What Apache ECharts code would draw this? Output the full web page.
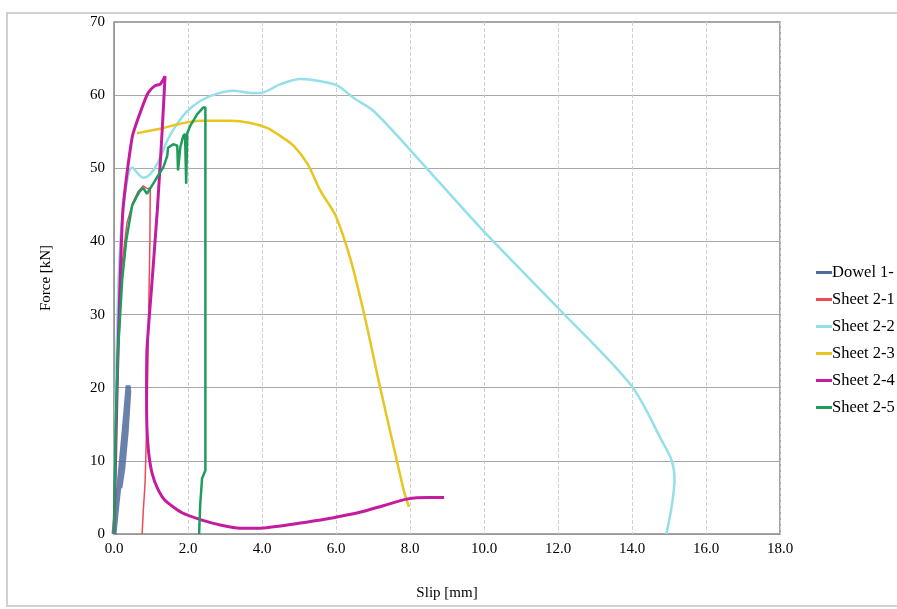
<!DOCTYPE html>
<html>
<head>
<meta charset="utf-8">
<script src="https://cdn.jsdelivr.net/npm/echarts@6/dist/echarts.min.js"></script>
<style>
  html, body { margin: 0; padding: 0; background: #fff; }
  #chart { width: 897px; height: 609px; }
</style>
</head>
<body>
<div id="chart"></div>
<script>
// 读图估计的数据 [slip mm, force kN]
const dowel1 = [[0, 0], [0.08, 4], [0.13, 6.4], [0.2, 10], [0.29, 15], [0.38, 20.3], [0.4, 19.5], [0.33, 14], [0.24, 9], [0.16, 6.3]];
const sheet21 = [[0, 0], [0.05, 15], [0.12, 28], [0.22, 37], [0.35, 42.5], [0.5, 45.2], [0.65, 46.8], [0.79, 47.6], [0.9, 47.2], [0.98, 47.3], [0.97, 40], [0.93, 28], [0.89, 16], [0.84, 7], [0.79, 3], [0.76, 0]];
const sheet22 = [[0, 0], [0.05, 20], [0.15, 38], [0.3, 46.5], [0.49, 50.1], [0.79, 48.7], [0.98, 49.2], [1.19, 50.8], [1.44, 53.8], [1.71, 56.1], [1.98, 57.8], [2.33, 59.2], [2.79, 60.2], [3.22, 60.6], [3.69, 60.3], [3.96, 60.3], [4.5, 61.5], [5.04, 62.2], [5.58, 61.9], [6.04, 61.3], [6.48, 59.6], [7.02, 57.8], [7.97, 52.7], [9.97, 41.5], [11.98, 31.0], [13.98, 20.3], [14.8, 12.8], [15.07, 10.1], [15.15, 7.4], [15.07, 3.7], [14.93, 0]];
const sheet23 = [[0.62, 54.8], [1.25, 55.4], [1.79, 56.1], [2.33, 56.5], [3.14, 56.5], [3.69, 56.2], [4.15, 55.5], [4.5, 54.4], [4.85, 53.1], [5.23, 50.6], [5.58, 46.9], [5.99, 43.5], [6.4, 37.4], [6.8, 29.2], [7.15, 21.0], [7.56, 11.9], [7.83, 6.0], [7.97, 3.7]];
const sheet24 = [[0, 0], [0.05, 12], [0.11, 25.1], [0.24, 44.2], [0.49, 54.2], [0.7, 57.5], [0.92, 60.3], [1.11, 61.3], [1.25, 61.5], [1.38, 62.6], [1.3, 55], [1.17, 44.2], [1.02, 34], [0.89, 25.1], [0.88, 19], [0.89, 14.6], [0.94, 11], [1.03, 8.3], [1.18, 6.2], [1.38, 4.6], [1.84, 2.9], [2.38, 1.9], [2.9, 1.2], [3.41, 0.8], [3.96, 0.8], [4.5, 1.1], [5.04, 1.5], [5.9, 2.2], [6.67, 3.0], [7.3, 3.9], [7.94, 4.8], [8.5, 5.0], [8.92, 5.0]];
const sheet25 = [[0, 0], [0.05, 15.6], [0.11, 25.1], [0.22, 34.7], [0.33, 40.1], [0.49, 44.9], [0.62, 46.2], [0.7, 46.9], [0.79, 47.3], [0.89, 46.5], [1.06, 47.9], [1.19, 49.0], [1.33, 50.1], [1.44, 51.7], [1.46, 52.8], [1.6, 53.3], [1.71, 53.1], [1.73, 49.7], [1.79, 52.8], [1.87, 54.4], [1.92, 54.7], [1.95, 47.9], [1.98, 54.8], [2.06, 55.8], [2.25, 57.4], [2.41, 58.3], [2.47, 58.3], [2.47, 8.7], [2.38, 7.6], [2.33, 4.0], [2.3, 0]];

const seriesNames = ["Dowel 1-", "Sheet 2-1", "Sheet 2-2", "Sheet 2-3", "Sheet 2-4", "Sheet 2-5"];
const seriesData = [dowel1, sheet21, sheet22, sheet23, sheet24, sheet25];
const seriesColors = ["#4e6c9c", "#ec4a55", "#93e0ea", "#e8c521", "#c41c9e", "#1f9b5c"];
const seriesWidths = [5, 1.5, 2.5, 2.5, 3, 2.5];
const seriesSmooth = [0, 0, 0.3, 0.3, 0.2, 0];

const serif = "Liberation Serif";

const chart = echarts.init(document.getElementById("chart"));

let option = {
  backgroundColor: "#fff",
  animation: false,
  graphic: [
    {
      type: "rect",
      shape: { x: 7, y: 13, width: 900, height: 593 },
      style: { fill: "none", stroke: "#d0d0d0", lineWidth: 2 },
      silent: true,
    },
  ],
  grid: {
    left: 114,
    right: 117,
    top: 22,
    bottom: 75,
    show: true,
    borderColor: "#888",
    borderWidth: 1.5,
  },
  legend: {
    orient: "vertical",
    left: 811,
    top: 259,
    icon: "rect",
    itemWidth: 16,
    itemHeight: 3,
    itemGap: 10,
    textStyle: { fontFamily: serif, fontSize: 16.5, color: "#000", padding: [0, 0, 0, -5], lineHeight: 17 },
    data: seriesNames,
  },
  xAxis: {
    type: "value",
    min: 0,
    max: 18,
    interval: 2,
    name: "Slip [mm]",
    nameLocation: "middle",
    nameGap: 52,
    nameTextStyle: { fontFamily: serif, fontSize: 15, color: "#000" },
    axisLine: { show: true, lineStyle: { color: "#999" } },
    axisTick: { show: false },
    axisLabel: {
      fontFamily: serif,
      fontSize: 15,
      color: "#000",
      margin: 8,
      formatter: (v) => v.toFixed(1),
    },
    splitLine: { show: true, lineStyle: { color: "#cfcfcf", type: "dashed" } },
  },
  yAxis: {
    type: "value",
    min: 0,
    max: 70,
    interval: 10,
    name: "Force [kN]",
    nameLocation: "middle",
    nameGap: 60,
    nameTextStyle: { fontFamily: serif, fontSize: 15, color: "#000" },
    axisLine: { show: true, lineStyle: { color: "#999" } },
    axisTick: { show: false },
    axisLabel: { fontFamily: serif, fontSize: 15, color: "#000", margin: 9 },
    splitLine: { show: true, lineStyle: { color: "#a8a8a8", type: "solid" } },
  },
  series: seriesNames.map((name, i) => ({
    name,
    type: "line",
    data: seriesData[i],
    symbol: "none",
    smooth: seriesSmooth[i],
    color: seriesColors[i],
    lineStyle: { width: seriesWidths[i], color: seriesColors[i], opacity: i === 0 ? 0.85 : 1 },
  })),
};

option && chart.setOption(option);
</script>
</body>
</html>
